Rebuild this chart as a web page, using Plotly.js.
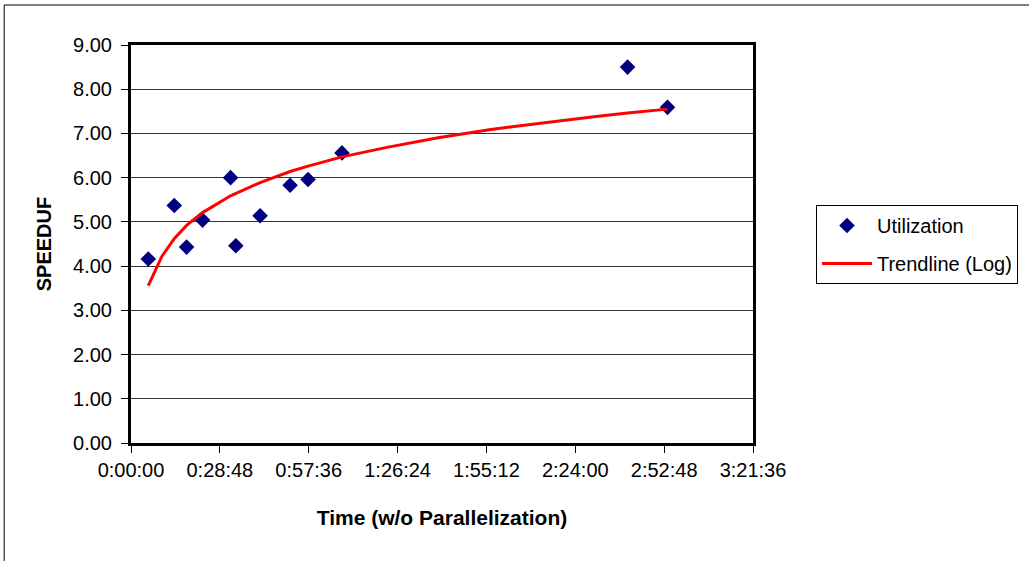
<!DOCTYPE html>
<html>
<head>
<meta charset="utf-8">
<script src="https://cdn.plot.ly/plotly-3.0.1.min.js"></script>
<style>html,body{margin:0;padding:0;background:#fff;}#chart{width:1029px;height:561px;}</style>
</head>
<body>
<div id="chart"></div>
<script>
// Utilization points: time without parallelization (seconds) and speedup
const utilTimeSec = [336, 841, 1081, 1392, 1936, 2039, 2511, 3094, 3443, 4103, 9657, 10433];
const utilSpeedup = [4.16, 5.37, 4.43, 5.04, 6.00, 4.46, 5.14, 5.83, 5.96, 6.56, 8.50, 7.59];

// Logarithmic trendline
const trendTimeSec = [336, 600, 841, 1081, 1392, 1936, 2511, 3094, 3443, 4103, 5000, 6000, 7000, 8000, 9000, 9657, 10433];
const trendSpeedup = [3.56, 4.22, 4.62, 4.92, 5.21, 5.59, 5.89, 6.14, 6.26, 6.47, 6.69, 6.91, 7.09, 7.24, 7.38, 7.46, 7.55];

// Axis ticks
const xTickVals = [0, 1728, 3456, 5184, 6912, 8640, 10368, 12096];
const xTickText = ["0:00:00", "0:28:48", "0:57:36", "1:26:24", "1:55:12", "2:24:00", "2:52:48", "3:21:36"];
const yTickVals = [0, 1, 2, 3, 4, 5, 6, 7, 8, 9];

const FONT = "Liberation Sans, Arial, sans-serif";

const traces = [
  {
    x: utilTimeSec, y: utilSpeedup,
    type: "scatter", mode: "markers", name: "Utilization", legendgroup: "a",
    marker: {symbol: "diamond", size: 12, color: "#000080"},
    cliponaxis: false
  },
  {
    x: trendTimeSec, y: trendSpeedup,
    type: "scatter", mode: "lines", name: "Trendline (Log)", legendgroup: "b",
    line: {color: "#FF0000", width: 3}
  }
];

const layout = {
  width: 1029, height: 561,
  paper_bgcolor: "#ffffff", plot_bgcolor: "#ffffff",
  margin: {l: 131, r: 275, t: 45, b: 118, pad: 0},
  font: {family: FONT, size: 20, color: "#000"},
  showlegend: true,
  xaxis: {
    range: [0, 12096], tickvals: xTickVals, ticktext: xTickText,
    showgrid: false, zeroline: false,
    showline: true, linecolor: "#000", linewidth: 3, mirror: true,
    ticks: "outside", ticklen: 7, tickwidth: 1, tickcolor: "#000",
    tickfont: {family: FONT, size: 20, color: "#000"},
    title: {text: "Time (w/o Parallelization)", font: {family: FONT, size: 21, color: "#000", weight: "bold"}, standoff: 31},
    automargin: false
  },
  yaxis: {
    range: [0, 9], tickvals: yTickVals, tickformat: ".2f",
    showgrid: true, gridcolor: "#333", gridwidth: 1, zeroline: false,
    showline: true, linecolor: "#000", linewidth: 3, mirror: true,
    ticks: "outside", ticklen: 7, tickwidth: 1, tickcolor: "#000",
    ticklabelstandoff: 5,
    tickfont: {family: FONT, size: 20, color: "#000"},
    title: {text: "SPEEDUF", font: {family: FONT, size: 20, color: "#000", weight: "bold"}, standoff: 17},
    automargin: false
  },
  legend: {
    x: 1.0995, y: 0.598, xanchor: "left", yanchor: "top",
    bordercolor: "#000", borderwidth: 1, bgcolor: "#fff",
    font: {family: FONT, size: 20, color: "#000"},
    itemwidth: 50, tracegroupgap: 9
  },
  shapes: [
    {type: "rect", xref: "paper", yref: "paper", x0: -0.2039, x1: 2, y0: -1, y1: 1.1005,
     line: {color: "#000", width: 1}, fillcolor: "rgba(0,0,0,0)", layer: "below"}
  ]
};

Plotly.newPlot("chart", traces, layout, {staticPlot: true, displayModeBar: false});
</script>
</body>
</html>
